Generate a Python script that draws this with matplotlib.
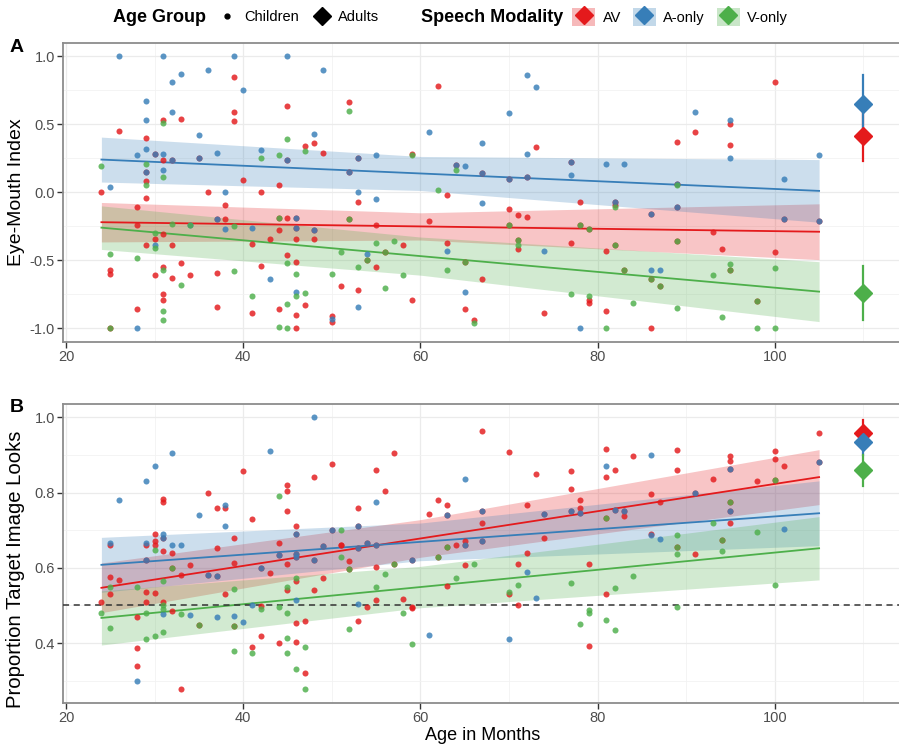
import numpy as np
import matplotlib
matplotlib.use("Agg")
from matplotlib import pyplot as plt
from matplotlib.lines import Line2D
from matplotlib.patches import Patch

plt.rcParams['font.family'] = ['Liberation Sans', 'DejaVu Sans']

# ---- data ----
modalities = ["AV", "A-only", "V-only"]
colors = {"AV": "#E41A1C", "A-only": "#377EB8", "V-only": "#4DAF4A"}

# Panel A: eye-mouth index, children (age in months, index)
a_av_age = [39, 31, 33, 39, 39, 45, 26, 29, 30, 31, 32, 35, 45, 47, 48, 49, 29, 29, 24, 29, 36, 38, 40, 42,
            44, 28, 28, 37, 38, 44, 45, 46, 46, 44, 48, 30, 31, 29, 32, 41, 43, 46, 48, 45, 46, 42, 33, 31,
            30, 32, 34, 37, 25, 25, 31, 31, 28, 37, 41, 44, 46, 47, 46, 25, 51, 50, 50,
            52, 62, 73, 53, 59, 64, 67, 70, 72, 77, 52, 53, 63, 70, 71, 72, 78, 52, 55, 61, 70, 78, 79, 71,
            71, 63, 77, 81, 58, 56, 54, 55, 53, 59, 65, 67, 65, 66, 74, 79, 79, 81,
            100, 95, 91, 89, 95, 89, 82, 82, 89, 86, 101, 105, 93, 82, 89, 94, 100, 83, 86, 87, 95, 98, 86]
a_av_val = [0.85, 0.53, 0.54, 0.59, 0.52, 0.63, 0.45, 0.40, 0.28, 0.24, 0.24, 0.25, 0.24, 0.34, 0.36, 0.29,
            0.15, 0.08, 0.00, -0.04, 0.00, -0.09, 0.09, 0.00, 0.05, -0.11, -0.24, -0.20, -0.20, -0.19, -0.19,
            -0.19, -0.26, -0.28, -0.28, -0.34, -0.31, -0.39, -0.39, -0.38, -0.34, -0.34, -0.34, -0.46, -0.51,
            -0.54, -0.52, -0.55, -0.61, -0.63, -0.61, -0.59, -0.57, -0.60, -0.75, -0.79, -0.86, -0.84, -0.89,
            -0.86, -0.90, -0.83, -1.00, -1.00, -0.69, -0.91, -0.95,
            0.66, 0.78, 0.33, 0.25, 0.28, 0.20, 0.14, 0.10, 0.11, 0.22, 0.15, -0.07, -0.02, -0.12, -0.17,
            -0.18, -0.07, -0.20, -0.24, -0.21, -0.24, -0.24, -0.27, -0.35, -0.42, -0.37, -0.37, -0.43, -0.39,
            -0.44, -0.50, -0.55, -0.72, -0.79, -0.51, -0.64, -0.86, -0.94, -0.89, -0.79, -0.81, -0.87,
            0.81, 0.50, 0.44, 0.37, 0.35, 0.06, -0.07, -0.09, -0.11, -0.16, -0.20, -0.21, -0.29, -0.39, -0.36,
            -0.42, -0.44, -0.57, -0.64, -0.69, -0.57, -0.80, -1.00]
a_ao_age = [26, 31, 39, 45, 33, 36, 32, 49, 40, 29, 29, 32, 48, 35, 29, 28, 30, 31, 32, 35, 37, 42, 45, 29,
            31, 25, 38, 37, 38, 34, 41, 46, 46, 48, 30, 43, 46, 28, 50,
            72, 73, 70, 61, 67, 72, 53, 55, 64, 65, 67, 70, 72, 77, 77, 81, 52, 53, 55, 67, 63, 74, 54, 53,
            65, 78,
            91, 95, 95, 105, 83, 89, 101, 82, 89, 86, 101, 105, 86, 87]
a_ao_val = [1.00, 1.00, 1.00, 1.00, 0.87, 0.90, 0.81, 0.90, 0.75, 0.67, 0.53, 0.59, 0.43, 0.42, 0.32, 0.27,
            0.28, 0.28, 0.24, 0.25, 0.29, 0.31, 0.24, 0.15, 0.16, 0.04, 0.00, -0.20, -0.27, -0.24, -0.26,
            -0.19, -0.26, -0.28, -0.39, -0.64, -0.73, -1.00, -0.93,
            0.86, 0.77, 0.58, 0.44, 0.36, 0.28, 0.25, 0.27, 0.20, 0.19, 0.14, 0.10, 0.11, 0.22, 0.13, 0.21,
            0.15, 0.00, -0.05, -0.08, -0.43, -0.43, -0.45, -0.84, -0.73, -1.00,
            0.59, 0.53, 0.25, 0.27, 0.21, 0.06, 0.10, -0.07, -0.11, -0.16, -0.20, -0.21, -0.57, -0.57]
a_vo_age = [31, 45, 47, 42, 44, 24, 29, 29, 31, 44, 32, 34, 39, 30, 30, 25, 28, 45, 46, 31, 39, 33, 31, 31,
            41, 45, 46, 47, 44, 45, 25, 50, 51,
            52, 59, 64, 62, 52, 70, 78, 79, 71, 71, 55, 57, 56, 54, 53, 58, 56, 63, 65, 66, 77, 79, 81,
            89, 82, 82, 89, 83, 86, 87, 93, 95, 95, 100, 84, 89, 94, 98, 98, 100]
a_vo_val = [0.51, 0.39, 0.30, 0.25, 0.27, 0.19, 0.21, 0.05, 0.11, -0.19, -0.23, -0.24, -0.25, -0.30, -0.41,
            -0.45, -0.48, -0.52, -0.60, -0.57, -0.58, -0.68, -0.87, -0.94, -0.76, -0.82, -0.76, -0.74, -0.99,
            -1.00, -1.00, -0.60, -0.44,
            0.60, 0.27, 0.16, 0.02, -0.20, -0.24, -0.24, -0.27, -0.35, -0.39, -0.37, -0.36, -0.44, -0.50,
            -0.55, -0.61, -0.70, -0.57, -0.51, -0.96, -0.75, -0.76, -1.00,
            0.05, -0.11, -0.39, -0.36, -0.57, -0.64, -0.69, -0.61, -0.53, -0.57, -0.56, -0.81, -0.85, -0.92,
            -0.80, -1.00, -1.00]

# Panel B: proportion target image looks, children
b_av_age = [40, 48, 50, 45, 45, 45, 36, 31, 31, 37, 38, 41, 46, 46, 50, 25, 29, 30, 30, 30, 31, 31, 32, 39,
            37, 44, 46, 46, 44, 45, 39, 48, 49, 51, 29, 34, 32, 42, 43, 36, 37, 33, 25, 26, 46, 48, 49, 25,
            29, 30, 38, 45, 24, 29, 31, 32, 42, 28, 39, 35, 46, 47, 28, 28, 33, 42, 44, 46, 41, 47,
            67, 70, 57, 55, 56, 73, 77, 77, 81, 81, 53, 53, 62, 63, 61, 63, 67, 67, 72, 74, 77, 78, 78, 78,
            81, 51, 53, 54, 55, 52, 52, 55, 57, 59, 55, 54, 58, 59, 59, 53, 62, 63, 64, 65, 65, 67, 65, 63,
            72, 74, 71, 70, 71, 79, 81, 79,
            82, 84, 89, 89, 95, 95, 95, 100, 100, 101, 105, 105, 93, 98, 100, 86, 91, 82, 83, 83, 87, 95, 95,
            95, 86, 89, 91, 94]
b_av_val = [0.857, 0.840, 0.876, 0.820, 0.805, 0.750, 0.800, 0.784, 0.775, 0.760, 0.760, 0.730, 0.710,
            0.690, 0.700, 0.660, 0.660, 0.690, 0.670, 0.660, 0.680, 0.644, 0.640, 0.678, 0.654, 0.667, 0.638,
            0.630, 0.634, 0.610, 0.614, 0.622, 0.657, 0.660, 0.620, 0.607, 0.600, 0.600, 0.585, 0.582, 0.578,
            0.580, 0.575, 0.567, 0.564, 0.542, 0.573, 0.530, 0.535, 0.533, 0.530, 0.540, 0.510, 0.510, 0.510,
            0.486, 0.498, 0.470, 0.445, 0.447, 0.453, 0.458, 0.387, 0.339, 0.277, 0.420, 0.400, 0.404, 0.390,
            0.320,
            0.964, 0.908, 0.905, 0.860, 0.805, 0.850, 0.856, 0.810, 0.916, 0.840, 0.758, 0.710, 0.780, 0.767,
            0.743, 0.740, 0.750, 0.720, 0.766, 0.743, 0.752, 0.780, 0.758, 0.745, 0.732, 0.662, 0.654, 0.667,
            0.660, 0.618, 0.596, 0.602, 0.610, 0.622, 0.515, 0.497, 0.518, 0.496, 0.493, 0.460, 0.630, 0.656,
            0.660, 0.670, 0.660, 0.670, 0.608, 0.553, 0.640, 0.680, 0.610, 0.530, 0.500, 0.610, 0.530, 0.393,
            0.860, 0.897, 0.913, 0.860, 0.896, 0.885, 0.863, 0.910, 0.890, 0.870, 0.958, 0.882, 0.836, 0.830,
            0.833, 0.796, 0.800, 0.753, 0.752, 0.738, 0.774, 0.775, 0.752, 0.720, 0.690, 0.656, 0.637, 0.675]
b_ao_age = [48, 32, 43, 30, 29, 26, 38, 35, 38, 46, 50, 25, 29, 31, 31, 32, 33, 46, 46, 44, 48, 49, 29, 42,
            36, 37, 31, 34, 37, 39, 40, 41, 46, 28,
            55, 65, 81, 53, 63, 67, 74, 77, 78, 53, 54, 55, 59, 65, 67, 53, 61, 72, 73, 70,
            86, 95, 105, 91, 82, 83, 95, 86, 87, 101]
b_ao_val = [1.000, 0.906, 0.910, 0.870, 0.830, 0.780, 0.767, 0.740, 0.710, 0.690, 0.700, 0.666, 0.666,
            0.690, 0.680, 0.660, 0.660, 0.638, 0.630, 0.634, 0.622, 0.657, 0.620, 0.600, 0.582, 0.578, 0.477,
            0.476, 0.470, 0.472, 0.455, 0.502, 0.515, 0.300,
            0.775, 0.835, 0.870, 0.710, 0.740, 0.750, 0.743, 0.752, 0.745, 0.654, 0.667, 0.660, 0.622, 0.660,
            0.670, 0.505, 0.422, 0.588, 0.520, 0.410,
            0.900, 0.863, 0.882, 0.800, 0.753, 0.752, 0.752, 0.686, 0.676, 0.704]
b_vo_age = [44, 51, 30, 51, 32, 25, 28, 31, 39, 46, 45, 31, 31, 33, 42, 44, 45, 24, 25, 29, 29, 30, 31, 39,
            35, 45, 47, 39, 41, 45, 46, 47,
            52, 57, 56, 55, 58, 52, 59, 62, 63, 66, 64, 71, 70, 77, 79, 79, 78, 81, 81,
            100, 95, 93, 89, 89, 89, 94, 94, 98, 84, 82, 89, 82, 100]
b_vo_val = [0.790, 0.700, 0.648, 0.630, 0.600, 0.548, 0.548, 0.566, 0.544, 0.573, 0.550, 0.500, 0.490,
            0.477, 0.490, 0.496, 0.480, 0.480, 0.440, 0.480, 0.410, 0.420, 0.430, 0.445, 0.447, 0.413, 0.390,
            0.380, 0.375, 0.374, 0.330, 0.277,
            0.596, 0.610, 0.583, 0.550, 0.480, 0.437, 0.397, 0.630, 0.656, 0.610, 0.573, 0.555, 0.535, 0.560,
            0.487, 0.480, 0.452, 0.462, 0.732,
            0.833, 0.775, 0.718, 0.687, 0.656, 0.637, 0.675, 0.645, 0.694, 0.579, 0.546, 0.496, 0.435, 0.555]

# linear fits with 95% CI band, read at three ages
fit_age = [24, 60, 105]
a_fit = {"AV": [-0.22, -0.251, -0.29], "A-only": [0.24, 0.138, 0.01], "V-only": [-0.26, -0.469, -0.73]}
a_ci = {"AV": [0.145, 0.10, 0.205], "A-only": [0.165, 0.125, 0.23], "V-only": [0.16, 0.14, 0.22]}
b_fit = {"AV": [0.547, 0.678, 0.841], "A-only": [0.608, 0.669, 0.745], "V-only": [0.467, 0.549, 0.652]}
b_ci = {"AV": [0.066, 0.05, 0.073], "A-only": [0.073, 0.05, 0.086], "V-only": [0.072, 0.055, 0.084]}

# adults: mean and error bar limits, shown at age 110
adult_age = 110
a_adult = {"AV": (0.41, 0.23, 0.60), "A-only": (0.65, 0.44, 0.86), "V-only": (-0.74, -0.94, -0.54)}
b_adult = {"AV": (0.957, 0.921, 0.993), "A-only": (0.935, 0.90, 0.97), "V-only": (0.86, 0.818, 0.90)}

a_points = {"AV": (a_av_age, a_av_val), "A-only": (a_ao_age, a_ao_val), "V-only": (a_vo_age, a_vo_val)}
b_points = {"AV": (b_av_age, b_av_val), "A-only": (b_ao_age, b_ao_val), "V-only": (b_vo_age, b_vo_val)}


def draw_panel(ax, points, fit, ci, adult):
    for m in modalities:
        lo = np.array(fit[m]) - np.array(ci[m])
        hi = np.array(fit[m]) + np.array(ci[m])
        ax.fill_between(fit_age, lo, hi, color=colors[m], alpha=0.25, linewidth=0, zorder=2)
    for m in modalities:
        ax.plot(fit_age, fit[m], color=colors[m], lw=1.3, zorder=3)
    for m in modalities:
        x, y = points[m]
        ax.scatter(x, y, s=19, color=colors[m], alpha=0.82, linewidths=0, zorder=4)
    for m in modalities:
        mean, lo, hi = adult[m]
        ax.plot([adult_age, adult_age], [lo, hi], color=colors[m], lw=1.6, zorder=5)
        ax.plot([adult_age], [mean], marker='D', ms=9.5, color=colors[m], mec=colors[m], zorder=6)

    ax.set_xlim(19.7, 114.3)
    ax.set_xticks([20, 40, 60, 80, 100])
    ax.set_xticks([30, 50, 70, 90, 110], minor=True)
    ax.grid(True, which='major', color='#EBEBEB', lw=0.9, zorder=0)
    ax.grid(True, which='minor', color='#F2F2F2', lw=0.6, zorder=0)
    ax.set_axisbelow(True)
    for s in ax.spines.values():
        s.set_color('#8C8C8C')
        s.set_linewidth(1.3)
    ax.tick_params(which='major', length=4, width=1, color='#333333', labelcolor='#4D4D4D',
                   labelsize=10.5, pad=2)
    ax.tick_params(which='minor', length=0)


fig = plt.figure(figsize=(8.99, 7.47), dpi=100)
W, H = 899, 747
left = 63.3 / W
width = (901.5 - 63.3) / W
axA = fig.add_axes([left, 1 - 342 / H, width, 299.5 / H])
axB = fig.add_axes([left, 1 - 703 / H, width, 299.3 / H])

draw_panel(axA, a_points, a_fit, a_ci, a_adult)
axA.set_ylim(-1.1, 1.1)
axA.set_yticks([-1.0, -0.5, 0.0, 0.5, 1.0])
axA.set_yticklabels(["-1.0", "-0.5", "0.0", "0.5", "1.0"])
axA.set_yticks([-0.75, -0.25, 0.25, 0.75], minor=True)
axA.set_ylabel("Eye-Mouth Index", fontsize=14)
axA.yaxis.set_label_coords(-0.046, 0.5)

draw_panel(axB, b_points, b_fit, b_ci, b_adult)
axB.axhline(0.5, color='#333333', lw=1.1, ls=(0, (4, 3)), zorder=3)
axB.set_ylim(0.241, 1.036)
axB.set_yticks([0.4, 0.6, 0.8, 1.0])
axB.set_yticks([0.3, 0.5, 0.7, 0.9], minor=True)
axB.set_ylabel("Proportion Target Image Looks", fontsize=14.6)
axB.yaxis.set_label_coords(-0.046, 0.445)
axB.set_xlabel("Age in Months", fontsize=13, labelpad=1)

fig.text(10 / W, 1 - 47 / H, "A", fontsize=14, fontweight='bold', va='center', ha='left')
fig.text(10 / W, 1 - 408 / H, "B", fontsize=14, fontweight='bold', va='center', ha='left')

# legend strip at the top
ly = 1 - 17 / H
fig.text(113 / W, ly, "Age Group", fontsize=13, fontweight='bold', va='center', ha='left')
h_age = [Line2D([], [], ls='none', marker='o', ms=3.5, color='black'),
         Line2D([], [], ls='none', marker='D', ms=9, color='black')]
fig.legend(h_age, ["Children", "Adults"], loc='center left', bbox_to_anchor=(218 / W, ly), ncol=2,
           frameon=False, fontsize=10.5, handlelength=1.3, handletextpad=0.5, columnspacing=0.9,
           borderpad=0, borderaxespad=0)
fig.text(421 / W, ly, "Speech Modality", fontsize=13, fontweight='bold', va='center', ha='left')
h_mod = [(Patch(facecolor=colors[m], alpha=0.3, edgecolor='none'),
          Line2D([], [], ls='none', marker='D', ms=9, color=colors[m])) for m in modalities]
fig.legend(h_mod, modalities, loc='center left', bbox_to_anchor=(572 / W, ly), ncol=3,
           frameon=False, fontsize=10.5, handlelength=1.6, handleheight=1.6, handletextpad=0.5,
           columnspacing=0.8, borderpad=0, borderaxespad=0)

fig.savefig("out.png", dpi=100)
